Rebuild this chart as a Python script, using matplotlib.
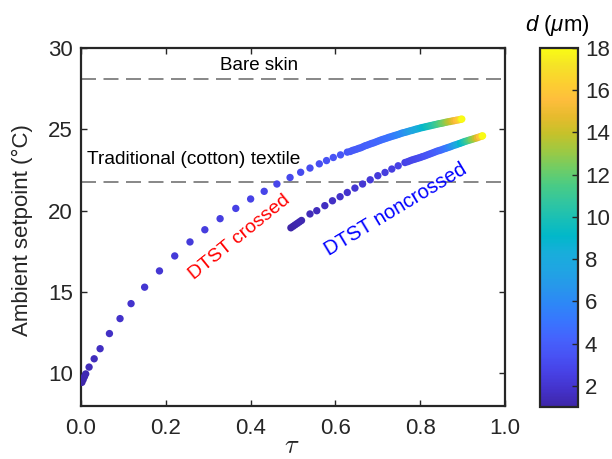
import matplotlib
matplotlib.use("Agg")
import matplotlib.pyplot as plt
from matplotlib.colors import LinearSegmentedColormap
import numpy as np

plt.rcParams['font.family'] = ['Liberation Sans', 'DejaVu Sans']
plt.rcParams['mathtext.fontset'] = 'custom'
plt.rcParams['mathtext.it'] = 'Liberation Sans:italic'

# MATLAB parula (every 3rd entry of the 64-colour table)
parula_rgb = [
    (0.2422, 0.1504, 0.6603), (0.2647, 0.1978, 0.7952), (0.2783, 0.2559, 0.8991),
    (0.2810, 0.3228, 0.9579), (0.2699, 0.3892, 0.9906), (0.2206, 0.4603, 0.9973),
    (0.1786, 0.5289, 0.9682), (0.1540, 0.5902, 0.9218), (0.1248, 0.6459, 0.8883),
    (0.0952, 0.6798, 0.8598), (0.0036, 0.7203, 0.7917), (0.0964, 0.7500, 0.7120),
    (0.1938, 0.7758, 0.6251), (0.2906, 0.7973, 0.5188), (0.4456, 0.8024, 0.3909),
    (0.6174, 0.7876, 0.2612), (0.7738, 0.7598, 0.1646), (0.9035, 0.7330, 0.1774),
    (0.9956, 0.7434, 0.2371), (0.9892, 0.8136, 0.1885), (0.9610, 0.8890, 0.1537),
    (0.9769, 0.9839, 0.0805),
]
parula = LinearSegmentedColormap.from_list('parula', parula_rgb, N=256)

# DTST crossed: transmittance tau, ambient setpoint (degC), fibre diameter d (um)
crossed_tau = [0.002, 0.005, 0.008, 0.011, 0.019, 0.031, 0.045, 0.067, 0.092, 0.118,
               0.150, 0.185, 0.221, 0.257, 0.292, 0.328, 0.365, 0.400, 0.432, 0.462,
               0.493, 0.518, 0.540, 0.562, 0.579, 0.595, 0.612, 0.628,
               0.635, 0.640, 0.645, 0.650, 0.655, 0.660, 0.665, 0.670, 0.675, 0.680,
               0.685, 0.690, 0.695, 0.700, 0.705, 0.710, 0.715, 0.720, 0.725, 0.730,
               0.735, 0.740, 0.745, 0.750, 0.755, 0.760, 0.765, 0.770, 0.775, 0.780,
               0.785, 0.790, 0.795, 0.800, 0.805, 0.810, 0.815, 0.820, 0.825, 0.830,
               0.835, 0.840, 0.845, 0.850, 0.855, 0.860, 0.865, 0.870, 0.875, 0.880,
               0.885, 0.890, 0.895, 0.898]
crossed_T = [9.45, 9.62, 9.80, 9.97, 10.39, 10.90, 11.52, 12.45, 13.37, 14.29,
             15.30, 16.30, 17.22, 18.08, 18.83, 19.51, 20.14, 20.72, 21.19, 21.64,
             22.04, 22.36, 22.62, 22.88, 23.08, 23.27, 23.43, 23.60,
             23.64, 23.70, 23.74, 23.78, 23.83, 23.87, 23.93, 23.99, 24.03, 24.08,
             24.13, 24.17, 24.22, 24.27, 24.32, 24.37, 24.41, 24.45, 24.50, 24.54,
             24.58, 24.62, 24.66, 24.70, 24.75, 24.79, 24.82, 24.86, 24.90, 24.93,
             24.97, 25.01, 25.04, 25.08, 25.11, 25.14, 25.17, 25.20, 25.23, 25.26,
             25.29, 25.32, 25.35, 25.37, 25.40, 25.43, 25.46, 25.48, 25.51, 25.53,
             25.56, 25.58, 25.61, 25.63]
crossed_d = [1.0, 1.1, 1.2, 1.3, 1.4, 1.5, 1.6, 1.7, 1.8, 1.9,
             2.0, 2.1, 2.2, 2.3, 2.4, 2.5, 2.6, 2.7, 2.8, 2.9,
             3.0, 3.1, 3.2, 3.3, 3.4, 3.5, 3.6, 3.7,
             3.75, 3.8, 3.85, 3.9, 3.95, 4.0, 4.05, 4.1, 4.15, 4.2,
             4.25, 4.3, 4.35, 4.4, 4.5, 4.6, 4.7, 4.8, 4.9, 5.0,
             5.2, 5.4, 5.6, 5.8, 6.0, 6.2, 6.5, 6.8, 7.1, 7.4,
             7.7, 8.0, 8.3, 8.6, 8.9, 9.2, 9.5, 9.8, 10.1, 10.4,
             10.8, 11.2, 11.6, 12.0, 12.4, 12.8, 13.3, 13.8, 14.3, 14.9,
             15.5, 16.2, 17.0, 18.0]

# DTST noncrossed
noncrossed_tau = [0.495, 0.500, 0.505, 0.510, 0.515, 0.520,
                  0.540, 0.556, 0.575, 0.593, 0.611, 0.628, 0.646, 0.664, 0.682,
                  0.700, 0.717, 0.733, 0.748, 0.764,
                  0.770, 0.775, 0.780, 0.785, 0.790, 0.795, 0.800, 0.805, 0.810,
                  0.815, 0.820, 0.825, 0.830, 0.835, 0.840, 0.845, 0.850, 0.855,
                  0.860, 0.865, 0.870, 0.875, 0.880, 0.885, 0.890, 0.895, 0.900,
                  0.905, 0.910, 0.915, 0.920, 0.925, 0.930, 0.935, 0.940, 0.945,
                  0.947]
noncrossed_T = [18.95, 19.04, 19.13, 19.22, 19.31, 19.40,
                19.80, 20.00, 20.31, 20.61, 20.86, 21.12, 21.39, 21.64, 21.90,
                22.15, 22.35, 22.56, 22.76, 22.96,
                23.01, 23.06, 23.11, 23.15, 23.19, 23.23, 23.27, 23.32, 23.36,
                23.41, 23.46, 23.51, 23.56, 23.61, 23.66, 23.70, 23.74, 23.79,
                23.83, 23.88, 23.92, 23.97, 24.02, 24.06, 24.11, 24.15, 24.20,
                24.25, 24.29, 24.33, 24.37, 24.41, 24.45, 24.49, 24.54, 24.58,
                24.60]
noncrossed_d = [1.0, 1.05, 1.1, 1.15, 1.2, 1.25,
                1.4, 1.5, 1.6, 1.7, 1.8, 1.9, 2.0, 2.1, 2.2,
                2.3, 2.4, 2.5, 2.6, 2.7,
                2.8, 2.85, 2.9, 2.95, 3.0, 3.1, 3.2, 3.3, 3.4,
                3.5, 3.6, 3.7, 3.8, 3.95, 4.1, 4.3, 4.5, 4.8,
                5.1, 5.5, 5.9, 6.4, 7.0, 7.6, 8.3, 9.0, 9.6,
                10.2, 10.9, 11.6, 12.3, 13.0, 13.8, 14.7, 15.7, 16.9,
                18.0]

bare_skin_T = 28.1
cotton_T = 21.75
d_min, d_max = 1.0, 18.0

dark = (0.15, 0.15, 0.15)

fig = plt.figure(figsize=(6.12, 4.59), dpi=100)
ax = fig.add_axes([0.1324, 0.1155, 0.6928, 0.7800])
cax = fig.add_axes([0.8824, 0.1133, 0.0621, 0.7821])

dash = (0, (9, 4.5))
ax.axhline(bare_skin_T, color=(0.45, 0.45, 0.45), lw=1.2, ls=dash, zorder=1)
ax.axhline(cotton_T, color=(0.45, 0.45, 0.45), lw=1.2, ls=dash, zorder=1)

sc = ax.scatter(crossed_tau, crossed_T, c=crossed_d, cmap=parula, vmin=d_min, vmax=d_max,
                s=28, linewidths=0, zorder=3)
ax.scatter(noncrossed_tau, noncrossed_T, c=noncrossed_d, cmap=parula, vmin=d_min, vmax=d_max,
           s=28, linewidths=0, zorder=3)

ax.text(0.42, 28.9, 'Bare skin', fontsize=13.5, ha='center', va='center', color='black')
ax.text(0.013, 23.15, 'Traditional (cotton) textile', fontsize=13.8, ha='left', va='center',
        color='black')
ax.text(0.375, 18.35, 'DTST crossed', fontsize=14, color='red', rotation=39,
        ha='center', va='center', rotation_mode='anchor')
ax.text(0.743, 20.1, 'DTST noncrossed', fontsize=14.5, color='blue', rotation=31,
        ha='center', va='center', rotation_mode='anchor')

ax.set_xlim(0, 1)
ax.set_ylim(8, 30)
ax.set_xticks(np.arange(0, 1.01, 0.2))
ax.set_xticklabels(['0.0', '0.2', '0.4', '0.6', '0.8', '1.0'])
ax.set_yticks([10, 15, 20, 25, 30])
ax.tick_params(direction='in', length=4, width=1, color=dark, labelcolor=dark,
               labelsize=16, top=True, right=True)
ax.tick_params(axis='x', pad=9)
ax.tick_params(axis='y', pad=6)
for sp in ax.spines.values():
    sp.set_linewidth(1.6)
    sp.set_color(dark)

fig.text(292 / 612, 0.028, r'$\tau$', fontsize=19, ha='center', va='center', color=dark,
         math_fontfamily='cm')
fig.text(0.036, 0.499, 'Ambient setpoint (°C)', fontsize=16, rotation=90,
         ha='center', va='center', color=dark)

cb = fig.colorbar(sc, cax=cax, ticks=np.arange(2, 19, 2))
cb.outline.set_linewidth(1.6)
cb.outline.set_edgecolor(dark)
cax.tick_params(direction='in', length=4, width=1, color=dark, labelcolor=dark,
                labelsize=16, pad=5)
fig.text(0.91, 0.945, r'$d$ ($\mu$m)', fontsize=16, ha='center', va='center', color='black')

fig.savefig('out.png', dpi=100)
